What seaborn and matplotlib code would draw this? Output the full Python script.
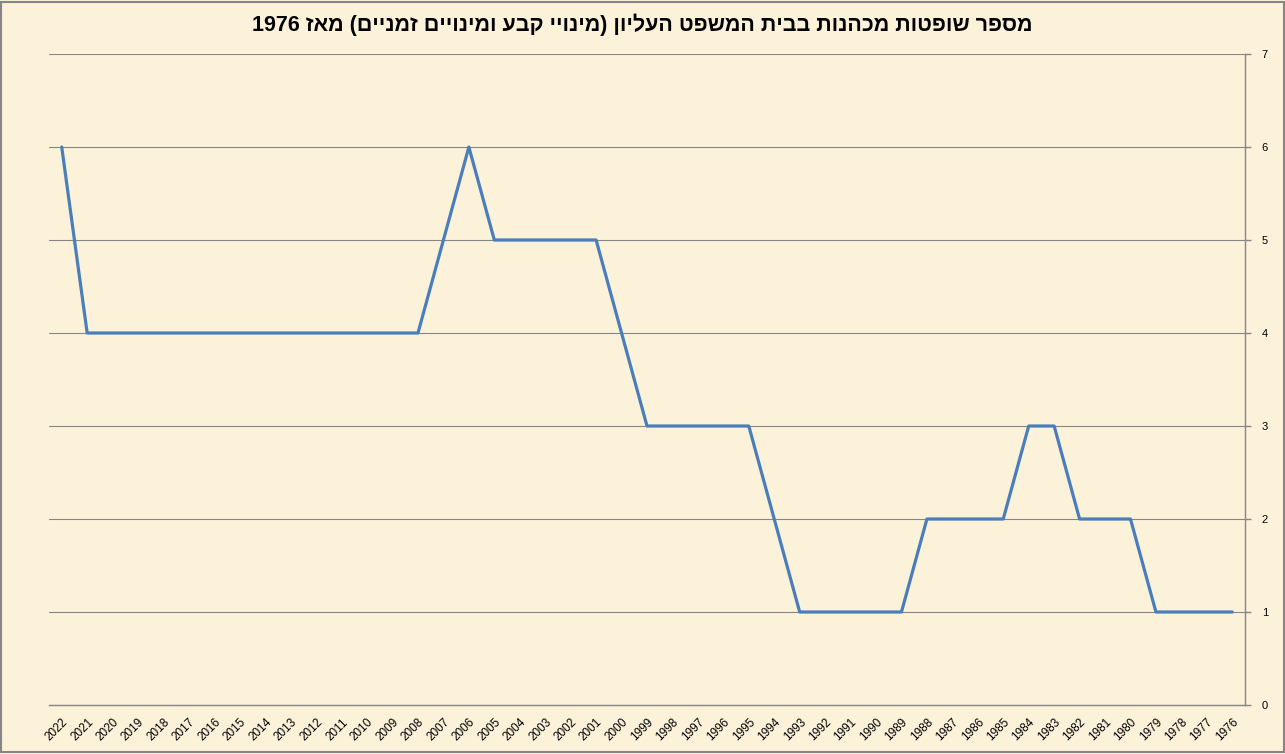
import re
import numpy as np
import pandas as pd
import matplotlib
matplotlib.use("Agg")
import matplotlib.pyplot as plt
import seaborn as sns

# data: years from 2022 down to 1976, number of female justices serving
years = [str(y) for y in range(2022, 1975, -1)]
counts = [6, 4, 4, 4, 4, 4, 4, 4, 4, 4, 4, 4, 4, 4, 4,   # 2022-2008
          5, 6, 5, 5, 5, 5, 5,                            # 2007-2001
          4, 3, 3, 3, 3, 3,                               # 2000-1995
          2, 1, 1, 1, 1, 1,                               # 1994-1989
          2, 2, 2, 2, 3, 3, 2, 2, 2,                      # 1988-1980
          1, 1, 1, 1]                                     # 1979-1976
y_ticks = list(range(0, 8))
title_txt = "מספר שופטות מכהנות בבית המשפט העליון (מינויי קבע ומינויים זמניים) מאז 1976"


def visual_rtl(s):
    # matplotlib draws left to right, so reverse hebrew for display
    r = s[::-1]
    r = r.translate(str.maketrans("()", ")("))
    r = re.sub(r"\d+", lambda m: m.group(0)[::-1], r)
    return r


df = pd.DataFrame({"year": years, "count": counts})

sns.set_style("white")
plt.rcParams['font.family'] = ['Liberation Sans', 'DejaVu Sans']

bg = "#FCF2DA"
fig = plt.figure(figsize=(12.85, 7.54), dpi=100, facecolor=bg)
ax = fig.add_axes([49 / 1285, 1 - 705 / 754, (1245 - 49) / 1285, (705 - 54) / 754])
ax.set_facecolor(bg)

sns.lineplot(data=df, x="year", y="count", sort=False, color="#4A7EBB",
             linewidth=2.3, ax=ax)

ax.set_xlim(-0.5, len(years) - 0.5)
ax.set_ylim(0, 7)
ax.set_xlabel("")
ax.set_ylabel("")

# x ticks: labels at centres, tick marks at category borders
ax.set_xticks(range(len(years)))
ax.set_xticklabels(years, rotation=45, ha="right", rotation_mode="anchor", fontsize=8.5)
ax.set_xticks(np.arange(-0.5, len(years)), minor=True)
ax.tick_params(axis="x", which="major", length=0, pad=8, labelcolor="black")
ax.tick_params(axis="x", which="minor", length=4, color="#868686", width=1, direction="out")

ax.yaxis.tick_right()
ax.set_yticks(y_ticks)
ax.tick_params(axis="y", length=4, color="#868686", width=1, direction="out",
               labelsize=8, pad=8, labelcolor="black")

ax.grid(axis="y", color="#868686", linewidth=0.8)
ax.grid(axis="x", visible=False)
for side in ["left", "top"]:
    ax.spines[side].set_visible(False)
for side in ["bottom", "right"]:
    ax.spines[side].set_color("#868686")
    ax.spines[side].set_linewidth(1)

fig.text(0.5, 1 - 25 / 754, visual_rtl(title_txt), ha="center", va="center",
         fontsize=15.5, fontweight="bold", color="black")

# outer frame
fig.patches.append(plt.Rectangle((0.001, 0.002), 0.998, 0.996, transform=fig.transFigure,
                                 fill=False, edgecolor="#868686", linewidth=1.5))

fig.savefig("out.png", dpi=100, facecolor=bg)
